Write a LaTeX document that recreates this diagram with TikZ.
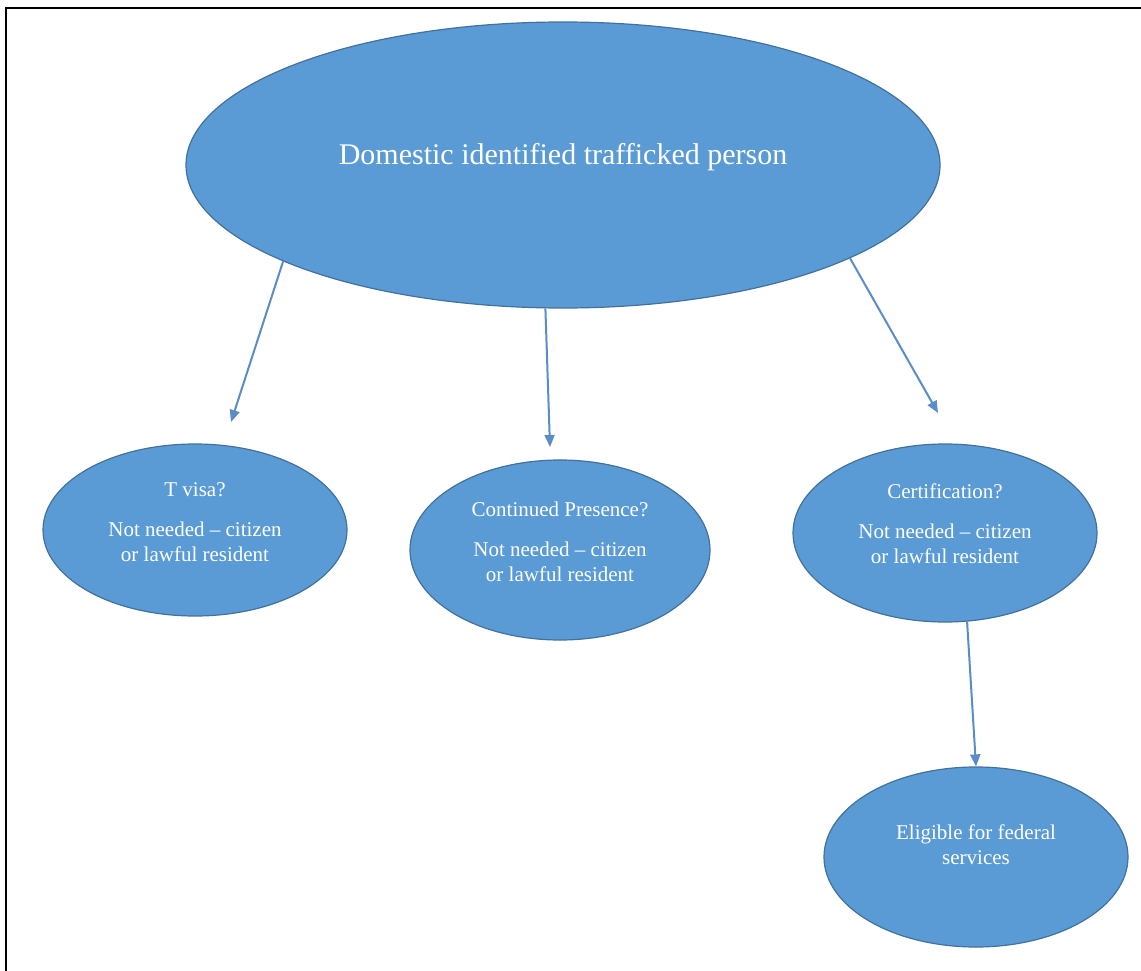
\documentclass[tikz,border=0pt]{standalone}
\usepackage{fontspec}
\setmainfont{Liberation Serif}
\usetikzlibrary{shapes.geometric,arrows.meta}
\definecolor{shapefill}{HTML}{5B9BD5}
\definecolor{shapeline}{HTML}{41719C}
\definecolor{arrowcol}{HTML}{5A8CC6}
\tikzset{
  bubble/.style={ellipse, fill=shapefill, draw=shapeline, line width=1.2pt, inner sep=0pt},
  bubtext/.style={text=white, align=center, font=\fontsize{21}{25}\selectfont, inner sep=0pt},
  toptext/.style={text=white, align=center, font=\fontsize{30}{36}\selectfont, inner sep=0pt},
  flow/.style={draw=arrowcol, line width=2pt, -{Triangle[length=12pt,width=10pt]}},
  framecol/.style={draw=black, line width=2.5pt}
}
\begin{document}
\begin{tikzpicture}[x=1pt,y=-1pt]
\useasboundingbox (0,0) rectangle (1141,971);
\draw[framecol] (6,971) -- (6,8) -- (1141,8);

\node[bubble, minimum width=754pt, minimum height=286pt] (top) at (563,165) {};
\node[toptext] (toplabel) at (563,157) {Domestic identified trafficked person};

\node[bubble, minimum width=304pt, minimum height=172pt] (tvisa) at (195,530) {};
\node[bubtext] (tvisalabel) at (195,522) {T visa?\\[15pt]Not needed -- citizen\\or lawful resident};

\node[bubble, minimum width=300pt, minimum height=180pt] (cont) at (560,550) {};
\node[bubtext] (contlabel) at (560,542) {Continued Presence?\\[15pt]Not needed -- citizen\\or lawful resident};

\node[bubble, minimum width=304pt, minimum height=178pt] (cert) at (945,533) {};
\node[bubtext] (certlabel) at (945,524) {Certification?\\[15pt]Not needed -- citizen\\or lawful resident};

\node[bubble, minimum width=304pt, minimum height=180pt] (elig) at (976,857) {};
\node[bubtext] (eliglabel) at (976,845) {Eligible for federal\\services};

\coordinate (t1) at (231,422);
\coordinate (t2) at (550,447);
\coordinate (t3) at (938,413);

\draw[flow] (top.199.4) -- (t1);
\draw[flow] (top.263.6) -- (t2);
\draw[flow] (top.342.3) -- (t3);
\draw[flow] (cert.284.5) -- (elig.north);
\end{tikzpicture}
\end{document}
